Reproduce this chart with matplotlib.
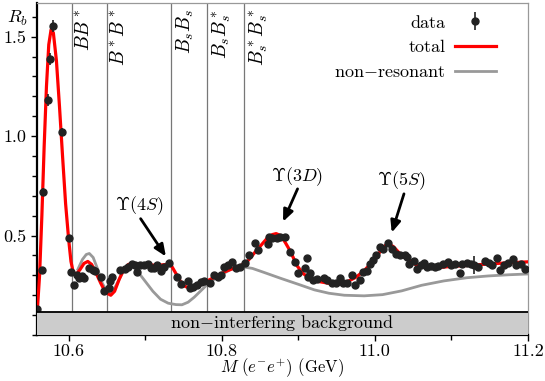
import matplotlib
matplotlib.use("Agg")
import matplotlib.pyplot as plt
from matplotlib.ticker import MultipleLocator

plt.rcParams["font.family"] = ["cmr10", "DejaVu Serif"]
plt.rcParams["mathtext.fontset"] = "cm"
plt.rcParams["axes.formatter.use_mathtext"] = True
plt.rcParams["axes.unicode_minus"] = False

# measured R_b points
data_x = [10.559, 10.565, 10.567, 10.573, 10.575, 10.579, 10.591, 10.600, 10.603, 10.607,
          10.611, 10.614, 10.617, 10.620, 10.627, 10.632, 10.634, 10.642, 10.646, 10.653,
          10.654, 10.657, 10.667, 10.673, 10.678, 10.683, 10.686, 10.689, 10.693, 10.698,
          10.703, 10.708, 10.712, 10.716, 10.721, 10.725, 10.731, 10.741, 10.747, 10.756,
          10.759, 10.763, 10.768, 10.773, 10.777, 10.784, 10.790, 10.795, 10.799, 10.803,
          10.808, 10.814, 10.819, 10.824, 10.830, 10.836, 10.843, 10.847, 10.860, 10.862,
          10.866, 10.872, 10.876, 10.882, 10.889, 10.895, 10.899, 10.909, 10.911, 10.912,
          10.915, 10.919, 10.924, 10.934, 10.938, 10.944, 10.949, 10.955, 10.958, 10.964,
          10.970, 10.974, 10.981, 10.984, 10.990, 10.994, 10.997, 11.002, 11.007, 11.010,
          11.017, 11.022, 11.027, 11.033, 11.039, 11.042, 11.045, 11.051, 11.055, 11.060,
          11.064, 11.068, 11.073, 11.078, 11.083, 11.089, 11.095, 11.099, 11.104, 11.111,
          11.114, 11.120, 11.125, 11.130, 11.135, 11.144, 11.149, 11.153, 11.160, 11.164,
          11.169, 11.174, 11.181, 11.184, 11.191, 11.196]
data_y = [0.130, 0.327, 0.720, 1.180, 1.390, 1.555, 1.020, 0.489, 0.318, 0.252,
          0.300, 0.285, 0.297, 0.285, 0.335, 0.327, 0.320, 0.290, 0.220, 0.235,
          0.270, 0.290, 0.327, 0.330, 0.340, 0.355, 0.350, 0.318, 0.350, 0.350,
          0.355, 0.335, 0.335, 0.350, 0.320, 0.343, 0.360, 0.290, 0.255, 0.270,
          0.235, 0.243, 0.250, 0.265, 0.270, 0.260, 0.300, 0.293, 0.300, 0.343,
          0.350, 0.368, 0.335, 0.343, 0.360, 0.400, 0.465, 0.427, 0.460, 0.493,
          0.488, 0.488, 0.493, 0.493, 0.418, 0.368, 0.310, 0.338, 0.385, 0.293,
          0.310, 0.277, 0.280, 0.285, 0.277, 0.263, 0.263, 0.285, 0.260, 0.263,
          0.300, 0.250, 0.277, 0.318, 0.323, 0.357, 0.377, 0.400, 0.443, 0.435,
          0.463, 0.435, 0.407, 0.400, 0.400, 0.393, 0.357, 0.373, 0.330, 0.352,
          0.363, 0.343, 0.347, 0.343, 0.347, 0.357, 0.368, 0.352, 0.357, 0.313,
          0.357, 0.360, 0.357, 0.352, 0.343, 0.373, 0.363, 0.352, 0.385, 0.327,
          0.352, 0.360, 0.380, 0.352, 0.357, 0.330]
data_err = [0.01, 0.01, 0.02, 0.03, 0.03, 0.03, 0.02] + [0.01] * 106 + [0.045] + [0.01] * 12

# fitted curves
total_x = [10.559, 10.562, 10.565, 10.568, 10.571, 10.574, 10.577, 10.580, 10.584, 10.588,
           10.592, 10.596, 10.600, 10.603, 10.606, 10.610, 10.615, 10.620, 10.625, 10.630,
           10.636, 10.642, 10.648, 10.655, 10.660, 10.666, 10.672, 10.678, 10.685, 10.700,
           10.715, 10.728, 10.734, 10.740, 10.746, 10.752, 10.758, 10.765, 10.775, 10.785,
           10.795, 10.805, 10.815, 10.825, 10.833, 10.842, 10.851, 10.860, 10.866, 10.871,
           10.877, 10.883, 10.890, 10.898, 10.906, 10.915, 10.925, 10.940, 10.955, 10.965,
           10.975, 10.985, 10.995, 11.005, 11.012, 11.017, 11.024, 11.035, 11.045, 11.055,
           11.065, 11.080, 11.100, 11.130, 11.160, 11.200]
total_y = [0.12, 0.30, 0.60, 0.95, 1.25, 1.46, 1.535, 1.52, 1.38, 1.15,
           0.90, 0.66, 0.48, 0.37, 0.315, 0.305, 0.33, 0.36, 0.37, 0.355,
           0.31, 0.26, 0.215, 0.20, 0.22, 0.28, 0.33, 0.355, 0.36, 0.355,
           0.35, 0.355, 0.35, 0.31, 0.27, 0.245, 0.235, 0.24, 0.26, 0.28,
           0.30, 0.32, 0.335, 0.35, 0.368, 0.41, 0.45, 0.49, 0.505, 0.51,
           0.50, 0.465, 0.418, 0.35, 0.31, 0.285, 0.27, 0.26, 0.26, 0.27,
           0.29, 0.32, 0.36, 0.41, 0.445, 0.46, 0.445, 0.40, 0.375, 0.35,
           0.34, 0.338, 0.345, 0.352, 0.36, 0.368]

nonres_x = [10.612, 10.618, 10.623, 10.627, 10.632, 10.638, 10.644, 10.650, 10.656, 10.662,
            10.670, 10.678, 10.684, 10.692, 10.700, 10.710, 10.720, 10.730, 10.740, 10.748,
            10.756, 10.764, 10.772, 10.780, 10.790, 10.800, 10.812, 10.827, 10.840, 10.855,
            10.877, 10.900, 10.921, 10.940, 10.960, 10.986, 11.010, 11.035, 11.061, 11.090,
            11.120, 11.148, 11.175, 11.200]
nonres_y = [0.33, 0.38, 0.405, 0.41, 0.39, 0.33, 0.26, 0.22, 0.215, 0.25,
            0.31, 0.345, 0.345, 0.31, 0.27, 0.22, 0.18, 0.16, 0.153, 0.152,
            0.165, 0.19, 0.22, 0.25, 0.28, 0.305, 0.33, 0.343, 0.335, 0.315,
            0.285, 0.255, 0.227, 0.21, 0.20, 0.197, 0.203, 0.222, 0.25, 0.272,
            0.288, 0.297, 0.303, 0.307]

thresholds = [10.604, 10.650, 10.734, 10.781, 10.829]
threshold_labels = [r"$BB^*$", r"$B^*B^*$", r"$B_sB_s$", r"$B_sB_s^*$", r"$B_s^*B_s^*$"]

states = [r"$\Upsilon(4S)$", r"$\Upsilon(3D)$", r"$\Upsilon(5S)$"]
state_text = [(10.692, 0.65), (10.898, 0.795), (11.034, 0.775)]
arrow_tail = [(10.694, 0.585), (10.899, 0.735), (11.038, 0.71)]
arrow_head = [(10.727, 0.395), (10.880, 0.57), (11.022, 0.515)]

band_top = 0.115

fig = plt.figure(figsize=(5.45, 3.81), dpi=100)
ax = fig.add_axes([0.0684, 0.1207, 0.9004, 0.8706])

for t, lab in zip(thresholds, threshold_labels):
    ax.plot([t, t], [band_top, 1.7], color="#777777", lw=0.9, zorder=1)
    ax.text(t + 0.004, 1.64, lab, rotation=90, ha="left", va="top", fontsize=14)

nr_line, = ax.plot(nonres_x, nonres_y, color="#999999", lw=2.0, zorder=2)
tot_line, = ax.plot(total_x, total_y, color="red", lw=2.3, zorder=3)
pts = ax.errorbar(data_x, data_y, yerr=data_err, fmt="o", color="#222222",
                  ms=5, elinewidth=1.2, capsize=0, zorder=4)

ax.axhspan(0, band_top, color="#cccccc", zorder=5)
ax.axhline(band_top, color="black", lw=1.3, zorder=6)
ax.text(10.879, 0.058, r"non$-$interfering background", ha="center", va="center",
        fontsize=13, zorder=7)

for name, tp, tail, head in zip(states, state_text, arrow_tail, arrow_head):
    ax.text(tp[0], tp[1], name, ha="center", va="center", fontsize=13)
    ax.annotate("", xy=head, xytext=tail,
                arrowprops=dict(arrowstyle="-|>,head_width=0.3,head_length=0.7",
                                color="black", lw=2.0, shrinkA=0, shrinkB=0))

ax.set_xlim(10.559, 11.2)
ax.set_ylim(0, 1.668)
ax.set_xticks([10.6, 10.8, 11.0, 11.2], ["10.6", "10.8", "11.0", "11.2"])
ax.set_yticks([0.5, 1.0, 1.5], ["0.5", "1.0", "1.5"])
ax.xaxis.set_minor_locator(MultipleLocator(0.1))
ax.yaxis.set_minor_locator(MultipleLocator(0.1))
ax.tick_params(which="major", direction="out", length=4.5, width=1, labelsize=13)
ax.tick_params(which="minor", direction="out", length=3.5, width=1)
ax.tick_params(axis="x", pad=1.5)

for side in ["left", "bottom"]:
    ax.spines[side].set_linewidth(1.6)
    ax.spines[side].set_color("black")
for side in ["top", "right"]:
    ax.spines[side].set_linewidth(0.9)
    ax.spines[side].set_color("#999999")

# x label placed directly under the tick labels
fig.text(0.518, 0.004, r"$M\ (e^{-}e^{+})$ (GeV)", ha="center", va="bottom", fontsize=12)
ax.text(-0.041, 0.955, r"$R_b$", transform=ax.transAxes, ha="center", va="center", fontsize=13)

ax.legend([pts, tot_line, nr_line], ["data", "total", r"non$-$resonant"],
          loc="upper right", bbox_to_anchor=(0.935, 0.965), frameon=False,
          markerfirst=False, fontsize=13, handlelength=2.3, handletextpad=0.5,
          labelspacing=0.5, borderaxespad=0, borderpad=0)

fig.savefig("out.png", dpi=100)
